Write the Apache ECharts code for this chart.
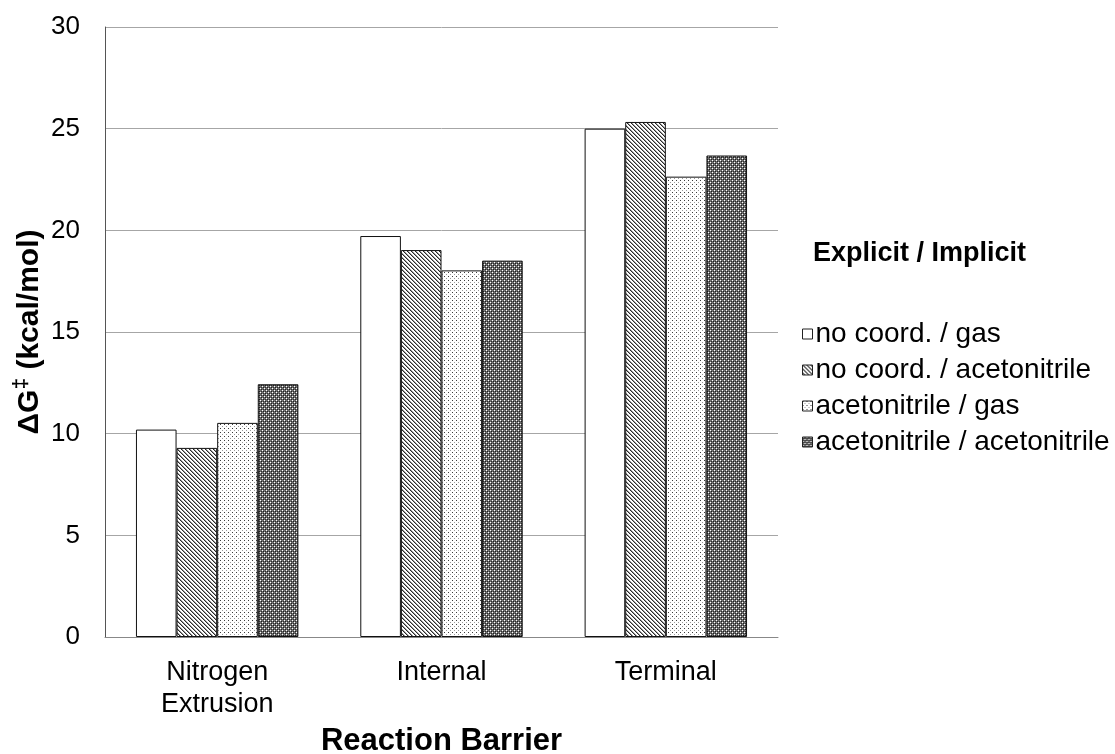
<!DOCTYPE html>
<html>
<head>
<meta charset="utf-8">
<script src="https://cdn.jsdelivr.net/npm/echarts@6/dist/echarts.min.js"></script>
<style>
  html, body { margin: 0; padding: 0; background: #fff; }
  #chart { width: 1115px; height: 754px; }
</style>
</head>
<body>
<div id="chart"></div>
<script>
// Reaction barriers (kcal/mol) by explicit / implicit solvation model
const categories = ['Nitrogen\nExtrusion', 'Internal', 'Terminal'];
const seriesNames = [
  'no coord. / gas',
  'no coord. / acetonitrile',
  'acetonitrile / gas',
  'acetonitrile / acetonitrile'
];
const noCoordGas = [10.2, 19.72, 25.0];
const noCoordAcetonitrile = [9.3, 19.03, 25.33];
const acetonitrileGas = [10.53, 18.03, 22.64];
const acetonitrileAcetonitrile = [12.43, 18.51, 23.68];
const yTicks = [0, 5, 10, 15, 20, 25, 30];

const FONT = 'Liberation Sans, Arial, sans-serif';

// Small tiled fills for the bars
function makePattern(size, draw) {
  const c = document.createElement('canvas');
  c.width = size; c.height = size;
  const ctx = c.getContext('2d');
  draw(ctx, size);
  return { image: c, repeat: 'repeat' };
}
const px = (ctx, x, y, col) => { ctx.fillStyle = col; ctx.fillRect(x, y, 1, 1); };

const fillWhite = '#ffffff';
const fillHatch = makePattern(4, (ctx, s) => {
  ctx.fillStyle = '#ffffff'; ctx.fillRect(0, 0, s, s);
  for (let i = 0; i < s; i++) {
    px(ctx, i, i, '#2a2a2a');
    px(ctx, (i + 1) % s, i, '#9a9a9a');
  }
});
const fillDots = makePattern(4, (ctx, s) => {
  ctx.fillStyle = '#ffffff'; ctx.fillRect(0, 0, s, s);
  px(ctx, 0, 0, '#3a3a3a');
  px(ctx, 2, 2, '#9a9a9a');
});
const fillDark = makePattern(4, (ctx, s) => {
  ctx.fillStyle = '#6e6e6e'; ctx.fillRect(0, 0, s, s);
  px(ctx, 0, 0, '#ffffff');
  px(ctx, 2, 2, '#ffffff');
  px(ctx, 1, 1, '#1e1e1e');
  px(ctx, 3, 3, '#1e1e1e');
  px(ctx, 1, 3, '#2e2e2e');
  px(ctx, 3, 1, '#2e2e2e');
});

const fills = [fillWhite, fillHatch, fillDots, fillDark];
const values = [noCoordGas, noCoordAcetonitrile, acetonitrileGas, acetonitrileAcetonitrile];

const chart = echarts.init(document.getElementById('chart'), null, { renderer: 'canvas' });

chart.setOption({
  animation: false,
  backgroundColor: '#ffffff',
  textStyle: { fontFamily: FONT },
  title: {
    text: 'Explicit / Implicit',
    left: 808,
    top: 235,
    textStyle: { fontFamily: FONT, fontSize: 27, fontWeight: 'bold', color: '#000' }
  },
  // Vertical value-axis title with a raised double dagger
  graphic: [{
    type: 'text',
    x: 28,
    y: 332,
    rotation: Math.PI / 2,
    silent: true,
    style: {
      text: '{b|ΔG}{s|‡}{b| (kcal/mol)}',
      align: 'center',
      verticalAlign: 'middle',
      fill: '#000',
      rich: {
        b: { fontFamily: FONT, fontSize: 30, fontWeight: 'bold', fill: '#000', lineHeight: 34, verticalAlign: 'bottom' },
        s: { fontFamily: FONT, fontSize: 21, fontWeight: 'bold', fill: '#000', lineHeight: 34, verticalAlign: 'top' }
      }
    }
  }],
  legend: {
    orient: 'vertical',
    left: 802,
    top: 320,
    padding: 0,
    itemWidth: 10,
    itemHeight: 10,
    itemGap: 8,
    icon: 'rect',
    data: seriesNames,
    textStyle: { fontFamily: FONT, fontSize: 28, lineHeight: 28, color: '#000', padding: [0, 0, 0, -2] },
    itemStyle: { borderColor: '#222', borderWidth: 1 }
  },
  grid: {
    left: 105, right: 337, top: 27, bottom: 117,
    containLabel: false,
    outerBoundsMode: 'none'
  },
  xAxis: {
    type: 'category',
    data: categories,
    name: 'Reaction Barrier',
    nameLocation: 'middle',
    nameGap: 86,
    nameTextStyle: { fontFamily: FONT, fontSize: 31, fontWeight: 'bold', color: '#000' },
    axisLine: { lineStyle: { color: '#888', width: 1 } },
    axisTick: { show: false },
    axisLabel: {
      fontFamily: FONT, fontSize: 27, color: '#000', margin: 20, lineHeight: 32
    }
  },
  yAxis: {
    type: 'value',
    min: yTicks[0],
    max: yTicks[yTicks.length - 1],
    interval: 5,
    axisLine: { show: true, lineStyle: { color: '#555', width: 1 } },
    axisTick: { show: false },
    splitLine: { lineStyle: { color: '#a6a6a6', width: 1 } },
    axisLabel: { fontFamily: FONT, fontSize: 26, color: '#000', margin: 25 }
  },
  series: seriesNames.map((name, i) => ({
    name,
    type: 'bar',
    data: values[i],
    barGap: '0%',
    barCategoryGap: '27.6%',
    itemStyle: { color: fills[i], borderColor: '#111', borderWidth: 1 }
  }))
});
</script>
</body>
</html>
